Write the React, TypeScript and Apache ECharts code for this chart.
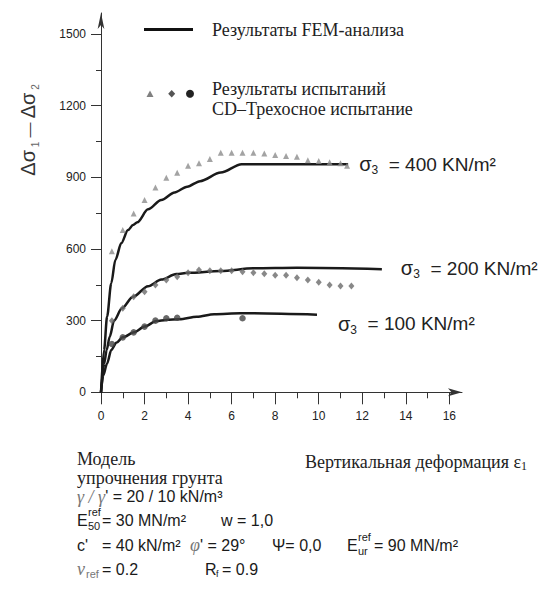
import React, { useEffect, useRef } from "react";
import * as echarts from "echarts";

const SANS = "'Liberation Sans', Arial, Helvetica, sans-serif";
const SERIF = "'Liberation Serif', 'Times New Roman', Times, serif";

// axis tick values
const xLabelValues = [0, 2, 4, 6, 8, 10, 12, 14, 16];
const xMinorValues = [1, 3, 5, 7, 9, 11, 13, 15];
const yLabelValues = [0, 300, 600, 900, 1200, 1500];
const yMinorValues = [150, 450, 750, 1050, 1350];

// FEM analysis curves  [strain ε1 (%), Δσ1 − Δσ3 (kN/m²)]
const fem400: [number, number][] = [
  [0, 0], [0.14, 177], [0.28, 317], [0.47, 456], [0.66, 554], [0.93, 624], [1.24, 679],
  [1.47, 700], [1.67, 712], [2.16, 766], [2.77, 805], [3.38, 837], [3.96, 861],
  [4.55, 884], [5.5, 920], [6.46, 955], [11.35, 955],
];
const fem200: [number, number][] = [
  [0, 0], [0.15, 121], [0.26, 177], [0.4, 233], [0.6, 300], [0.96, 352], [1.47, 400],
  [2.16, 444], [2.77, 472], [3.46, 495], [4.0, 500], [5.5, 508], [7.0, 519], [9.0, 521], [12.9, 515],
];
const fem100: [number, number][] = [
  [0, 0], [0.1, 70], [0.28, 121], [0.47, 177], [0.7, 207], [1.0, 230], [1.52, 251],
  [2.0, 275], [2.54, 298], [3.0, 303], [3.6, 306], [4.4, 316], [5.2, 327], [6.4, 331], [9.92, 325],
];

// CD triaxial test results
const test400: [number, number][] = [
  [0.5, 591], [1, 679], [1.5, 749], [2, 805], [2.5, 857], [3, 898], [3.5, 919], [4, 949],
  [4.5, 959], [5, 977], [5.5, 1003], [6, 1003], [6.5, 1003], [7, 1003], [7.5, 1000],
  [8, 993], [8.5, 989], [9, 986], [9.5, 972], [10, 968], [10.5, 963], [11, 959], [11.3, 949],
];
const test200: [number, number][] = [
  [0.5, 300], [1, 352], [1.5, 400], [2, 421], [2.5, 449], [3, 470], [3.5, 484], [4, 501],
  [4.5, 512], [5, 509], [5.5, 509], [6, 509], [6.5, 505], [7, 501], [7.5, 496], [8, 490],
  [8.5, 490], [9, 480], [9.5, 470], [10, 461], [10.5, 449], [11, 445], [11.5, 445],
];
const test100: [number, number][] = [
  [0.5, 202], [1, 230], [1.5, 251], [2, 275], [2.5, 300], [3, 310], [3.5, 312], [6.5, 310],
];

const sigmaValues = ["400", "200", "100"];

const sigmaRich = {
  s: { fontFamily: SANS, fontSize: 20, lineHeight: 24, color: "#222" },
  n: { fontFamily: SANS, fontSize: 12, lineHeight: 12, color: "#222", verticalAlign: "bottom" },
  t: { fontFamily: SANS, fontSize: 19, lineHeight: 24, color: "#222" },
};

function femSeries(name: string, data: [number, number][], sig: string, dist: number, off: [number, number]) {
  return {
    name,
    type: "line",
    data,
    xAxisIndex: 0,
    yAxisIndex: 0,
    symbol: "none",
    showSymbol: false,
    smooth: 0.3,
    smoothMonotone: "x",
    lineStyle: { color: "#1a1a1a", width: 2.5 },
    endLabel: {
      show: true,
      distance: dist,
      offset: off,
      formatter: `{s|σ}{n|3}{t|  = ${sig} KN/m²}`,
      rich: sigmaRich,
    },
    z: 2,
  };
}

function txt(x: number, y: number, text: string, extra: any = {}) {
  return {
    type: "text",
    x,
    y,
    silent: true,
    style: {
      text,
      fill: "#1a1a1a",
      fontFamily: SANS,
      fontSize: 16,
      lineHeight: 16,
      align: "left",
      verticalAlign: "middle",
      ...extra,
    },
  };
}

const greek = { fontFamily: SERIF, fontStyle: "italic", fontSize: 18, lineHeight: 16, fill: "#777" };
const plain = { fontFamily: SANS, fontSize: 16, lineHeight: 16, fill: "#1a1a1a" };
const serifText = { fontFamily: SERIF, fontSize: 18, lineHeight: 17, fill: "#222" };
const small = { fontSize: 11, lineHeight: 11 };

export default function App() {
  const ref = useRef<HTMLDivElement>(null);
  useEffect(() => {
    if (!ref.current) return;
    const chart = echarts.init(ref.current, undefined, { renderer: "svg" });
    const xMax = 16.58;
    const yMax = 1588;
    const tickStyle = { color: "#333", width: 1 };
    const plainNum = (v: number) => String(v);
    const option: any = {
      animation: false,
      backgroundColor: "#ffffff",
      grid: { left: 101, right: 87, top: 13, bottom: 218.7, containLabel: false },
      xAxis: [
        {
          type: "value", min: 0, max: xMax, position: "bottom",
          axisLine: { show: true, onZero: false, symbol: ["none", "arrow"], symbolSize: [6, 14], lineStyle: { color: "#333", width: 1 } },
          axisTick: { show: true, customValues: xLabelValues, length: 12, lineStyle: tickStyle },
          axisLabel: { show: true, customValues: xLabelValues, formatter: plainNum, margin: 18, fontSize: 12, fontFamily: SANS, color: "#222" },
          splitLine: { show: false },
        },
        {
          type: "value", min: 0, max: xMax, position: "bottom",
          axisLine: { show: false },
          axisTick: { show: true, customValues: xMinorValues, length: 6, lineStyle: tickStyle },
          axisLabel: { show: false },
          splitLine: { show: false },
        },
      ],
      yAxis: [
        {
          type: "value", min: 0, max: yMax, position: "left",
          axisLine: { show: true, onZero: false, symbol: ["none", "arrow"], symbolSize: [5, 16], lineStyle: { color: "#333", width: 1 } },
          axisTick: { show: true, customValues: yLabelValues, length: 10, lineStyle: tickStyle },
          axisLabel: { show: true, customValues: yLabelValues, formatter: plainNum, margin: 15, fontSize: 12, fontFamily: SANS, color: "#222" },
          splitLine: { show: false },
        },
        {
          type: "value", min: 0, max: yMax, position: "left",
          axisLine: { show: false },
          axisTick: { show: true, customValues: yMinorValues, length: 5, lineStyle: tickStyle },
          axisLabel: { show: false },
          splitLine: { show: false },
        },
      ],
      series: [
        femSeries("FEM 400", fem400, sigmaValues[0], 11, [0, 0]),
        femSeries("FEM 200", fem200, sigmaValues[1], 19, [0, -1]),
        femSeries("FEM 100", fem100, sigmaValues[2], 21, [0, 9]),
        { name: "Test 400", type: "scatter", data: test400, symbol: "triangle", symbolSize: 6, itemStyle: { color: "#8c8c8c" }, z: 3 },
        { name: "Test 200", type: "scatter", data: test200, symbol: "diamond", symbolSize: [6, 7], itemStyle: { color: "#6a6a6a" }, z: 3 },
        { name: "Test 100", type: "scatter", data: test100, symbol: "circle", symbolSize: 6.5, itemStyle: { color: "#444" }, z: 3 },
      ],
      graphic: {
        elements: [
          // legend
          { type: "line", silent: true, shape: { x1: 144, y1: 29.5, x2: 193, y2: 29.5 }, style: { stroke: "#111", lineWidth: 3 } },
          txt(212, 30, "Результаты FEM-анализа", serifText),
          { type: "polygon", silent: true, shape: { points: [[146.5, 97], [150, 90.5], [153.5, 97]] }, style: { fill: "#808080" } },
          { type: "polygon", silent: true, shape: { points: [[171.7, 90], [175.2, 93.8], [171.7, 97.6], [168.2, 93.8]] }, style: { fill: "#555" } },
          { type: "circle", silent: true, shape: { cx: 190, cy: 93.8, r: 4 }, style: { fill: "#222" } },
          txt(212, 89, "Результаты испытаний", serifText),
          txt(212, 109, "CD–Трехосное испытание", serifText),
          // y axis title
          {
            type: "text", x: 28, y: 130, rotation: Math.PI / 2, silent: true,
            style: {
              text: "{a|Δσ}{b| 1}{c| — }{a|Δσ}{b| 2}",
              align: "center", verticalAlign: "middle",
              rich: {
                a: { fontFamily: SANS, fontSize: 20, lineHeight: 24, fill: "#333" },
                b: { fontFamily: SANS, fontSize: 10, lineHeight: 10, fill: "#666", verticalAlign: "bottom" },
                c: { fontFamily: SANS, fontSize: 15, lineHeight: 24, fill: "#333" },
              },
            },
          },
          // x axis title
          {
            type: "text", x: 305, y: 462, silent: true,
            style: {
              text: "{a|Вертикальная деформация ε}{b|1}",
              align: "left", verticalAlign: "middle",
              rich: {
                a: { fontFamily: SERIF, fontSize: 18, lineHeight: 20, fill: "#222" },
                b: { fontFamily: SERIF, fontSize: 12, lineHeight: 12, fill: "#222", verticalAlign: "bottom" },
              },
            },
          },
          // model block
          txt(77, 458.5, "Модель", serifText),
          txt(77, 478, "упрочнения грунта", serifText),
          {
            type: "text", x: 77, y: 496.5, silent: true,
            style: { text: "{g|γ / γ}{n|' = 20 / 10 kN/m³}", align: "left", verticalAlign: "middle", rich: { g: greek, n: plain } },
          },
          txt(77, 520, "E"),
          txt(88, 512, "ref", small),
          txt(88, 526, "50", small),
          txt(102, 520, "= 30 MN/m²"),
          txt(221, 520, "w = 1,0"),
          txt(77, 545, "c'"),
          txt(102, 545, "= 40 kN/m²"),
          {
            type: "text", x: 190, y: 545, silent: true,
            style: { text: "{g|φ}{n|' = 29°}", align: "left", verticalAlign: "middle", rich: { g: greek, n: plain } },
          },
          txt(272, 545, "Ψ= 0,0"),
          txt(347, 545, "E"),
          txt(358, 537, "ref", small),
          txt(358, 551, "ur", small),
          txt(374, 545, "= 90 MN/m²"),
          txt(77, 569, "ν", { fontFamily: SERIF, fontStyle: "italic", fontSize: 18, lineHeight: 16, fill: "#777" }),
          txt(86, 574, "ref", { ...small, fill: "#777" }),
          txt(102, 569, "= 0.2"),
          txt(205, 569, "R"),
          txt(216, 573.5, "f", { fontSize: 9, lineHeight: 9 }),
          txt(222, 569, "= 0.9"),
        ],
      },
    };
    chart.setOption(option);
    return () => chart.dispose();
  }, []);
  return (
    <div
      ref={ref}
      style={{ position: "absolute", left: 0, top: 0, width: 549, height: 611, background: "#fff" }}
    />
  );
}
